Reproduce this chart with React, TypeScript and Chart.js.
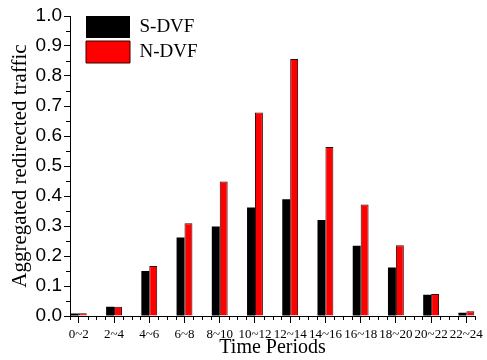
import React, { useEffect, useRef } from "react";
import { Chart, registerables } from "chart.js";

Chart.register(...registerables);

const categories = ["0~2", "2~4", "4~6", "6~8", "8~10", "10~12", "12~14", "14~16", "16~18", "18~20", "20~22", "22~24"];
const sdvf = [0.008, 0.031, 0.150, 0.262, 0.298, 0.362, 0.389, 0.320, 0.234, 0.162, 0.071, 0.011];
const ndvf = [0.009, 0.031, 0.167, 0.309, 0.448, 0.678, 0.857, 0.563, 0.372, 0.236, 0.073, 0.016];
const yTickValues = [0, 0.1, 0.2, 0.3, 0.4, 0.5, 0.6, 0.7, 0.8, 0.9, 1.0];

const SERIF = "'Liberation Serif', 'Times New Roman', serif";
const SANS = "'Liberation Sans', Arial, sans-serif";

// category i sits at hour position 2*i+1
const catPos = (i: number) => 2 * i + 1;

const minorTicks = {
  id: "minorTicks",
  afterDraw(chart: any) {
    const ctx = chart.ctx;
    const xs = chart.scales.x;
    const ys = chart.scales.y;
    ctx.save();
    ctx.strokeStyle = "#000";
    ctx.lineWidth = 1;
    ctx.beginPath();
    for (let k = 1; k <= 47; k++) {
      const v = k / 2;
      if (Number.isInteger(v) && v % 2 === 1) continue;
      const px = Math.round(xs.getPixelForValue(v)) + 0.5;
      ctx.moveTo(px, xs.top);
      ctx.lineTo(px, xs.top + 4);
    }
    for (let k = 0; k < yTickValues.length - 1; k++) {
      const v = (yTickValues[k] + yTickValues[k + 1]) / 2;
      const py = Math.round(ys.getPixelForValue(v)) + 0.5;
      ctx.moveTo(ys.right - 4, py);
      ctx.lineTo(ys.right, py);
    }
    ctx.stroke();
    ctx.restore();
  },
};

const legendShift = {
  id: "legendShift",
  afterLayout(chart: any) {
    const lg = chart.legend;
    if (lg) {
      lg.left = chart.chartArea.left + 13;
      lg.top = chart.chartArea.top - 3;
    }
  },
};

export default function App() {
  const ref = useRef<HTMLCanvasElement | null>(null);

  useEffect(() => {
    if (!ref.current) return;
    const chart = new Chart(ref.current, {
      type: "bar",
      data: {
        datasets: [
          {
            label: "S-DVF",
            data: sdvf.map((v, i) => ({ x: catPos(i), y: v })),
            backgroundColor: "#000000",
            borderColor: "#000000",
            borderWidth: 0,
          },
          {
            label: "N-DVF",
            data: ndvf.map((v, i) => ({ x: catPos(i), y: v })),
            backgroundColor: "#ff0000",
            borderColor: "#3a0000",
            borderWidth: 1,
          },
        ],
      },
      options: {
        animation: false,
        responsive: true,
        maintainAspectRatio: false,
        layout: { padding: { left: 8, top: 16, right: 6, bottom: 0 } },
        datasets: {
          bar: { categoryPercentage: 0.45, barPercentage: 1.0 },
        },
        plugins: {
          tooltip: { enabled: false },
          legend: {
            position: "chartArea" as any,
            align: "start",
            labels: {
              boxWidth: 44,
              boxHeight: 22,
              padding: 3,
              color: "#000",
              font: { family: SERIF, size: 19 },
            },
          },
        },
        scales: {
          x: {
            type: "linear",
            min: 0.5,
            max: 23.5,
            offset: false,
            afterBuildTicks: (s: any) => {
              s.ticks = categories.map((_, i) => ({ value: catPos(i) }));
            },
            afterFit: (s: any) => {
              s.height = 44;
            },
            ticks: {
              autoSkip: false,
              maxRotation: 0,
              padding: 4,
              color: "#000",
              font: { family: SERIF, size: 13 },
              callback: (v: any) => categories[(Number(v) - 1) / 2] ?? "",
            },
            grid: {
              offset: false,
              drawOnChartArea: false,
              tickLength: 7,
              tickColor: "#000",
              tickWidth: 1,
            },
            border: { color: "#000", width: 1 },
            title: {
              display: true,
              text: "Time Periods",
              color: "#000",
              font: { family: SERIF, size: 20 },
              padding: { top: 0, bottom: 0 },
            },
          },
          y: {
            min: 0,
            max: 1,
            afterBuildTicks: (s: any) => {
              s.ticks = yTickValues.map((v) => ({ value: v }));
            },
            afterFit: (s: any) => {
              s.width = 62;
            },
            ticks: {
              padding: 2,
              color: "#000",
              font: { family: SANS, size: 19 },
              callback: (v: any) => Number(v).toFixed(1),
            },
            grid: {
              drawOnChartArea: false,
              tickLength: 6,
              tickColor: "#000",
              tickWidth: 1,
            },
            border: { color: "#000", width: 1 },
            title: {
              display: true,
              text: "Aggregated redirected traffic",
              color: "#000",
              font: { family: SERIF, size: 21 },
              padding: { top: 0, bottom: 2 },
            },
          },
        },
      },
      plugins: [minorTicks, legendShift],
    });
    return () => chart.destroy();
  }, []);

  return (
    <div style={{ position: "fixed", left: 0, top: 0, width: 487, height: 360, background: "#fff" }}>
      <canvas ref={ref} />
    </div>
  );
}
